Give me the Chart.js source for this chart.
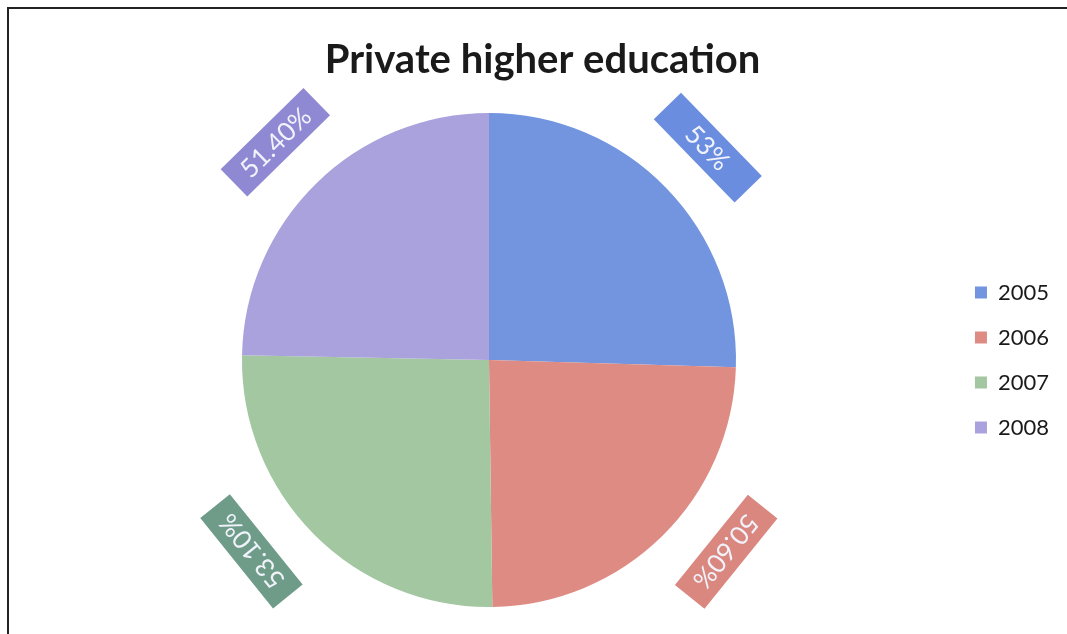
<!DOCTYPE html>
<html>
<head>
<meta charset="utf-8">
<script src="https://cdn.jsdelivr.net/npm/chart.js@4"></script>
<style>
  html, body { margin: 0; padding: 0; background: #fff; }
  #wrap { width: 1067px; height: 634px; position: relative; }
</style>
</head>
<body>
<div id="wrap"><canvas id="myChart" width="1067" height="634"></canvas></div>
<script>
const years = ['2005', '2006', '2007', '2008'];
const shares = [53, 50.6, 53.1, 51.4];
const shareLabels = ['53%', '50.60%', '53.10%', '51.40%'];
const sliceColors = ['#7394de', '#de8c83', '#a2c7a1', '#aaa2dc'];
const boxColors = ['#6a8ddf', '#d9877f', '#6f9c89', '#8f88d3'];

// labels drawn as rotated boxes outside the pie, slid along the ring
// so they stay inside the plot area (like excel does)
const boxLabels = {
    id: 'boxLabels',
    afterDatasetsDraw(chart) {
        const c = chart.ctx;
        const bottom = chart.chartArea.bottom + 3;
        const w = 116, h = 38;
        const arcs = chart.getDatasetMeta(0).data;
        arcs.forEach((arc, i) => {
            const p = arc.getProps(['x', 'y', 'startAngle', 'endAngle', 'outerRadius'], true);
            let a = (p.startAngle + p.endAngle) / 2;
            const r = p.outerRadius + 58;
            const dir = Math.cos(a) >= 0 ? -1 : 1;
            for (let k = 0; k < 90; k++) {
                const rot = a + Math.PI / 2;
                const hh = Math.abs(w / 2 * Math.sin(rot)) + Math.abs(h / 2 * Math.cos(rot));
                if (p.y + Math.sin(a) * r + hh <= bottom) break;
                a += dir * Math.PI / 360;
            }
            const x = p.x + Math.cos(a) * r;
            const y = p.y + Math.sin(a) * r;
            c.save();
            c.translate(x, y);
            c.rotate(a + Math.PI / 2);
            c.fillStyle = boxColors[i];
            c.fillRect(-w / 2, -h / 2, w, h);
            c.fillStyle = '#f1f3fb';
            c.font = '26px Lato';
            c.textAlign = 'center';
            c.textBaseline = 'middle';
            c.fillText(shareLabels[i], 0, 1);
            c.restore();
        });
    }
};

// scanned frame lines
const frame = {
    id: 'frame',
    beforeDraw(chart) {
        const c = chart.ctx;
        c.save();
        c.strokeStyle = '#222';
        c.lineWidth = 2;
        c.beginPath();
        c.moveTo(8, 634);
        c.lineTo(8, 8);
        c.lineTo(1067, 8);
        c.stroke();
        c.restore();
    }
};

const ctx = document.getElementById('myChart');
const myChart = new Chart(ctx, {
    type: 'pie',
    data: {
        labels: years,
        datasets: [{
            data: shares,
            backgroundColor: sliceColors,
            borderWidth: 0
        }]
    },
    options: {
        responsive: false,
        animation: false,
        layout: {
            padding: { left: 26, right: 8, top: 0, bottom: 27 }
        },
        plugins: {
            title: {
                display: true,
                text: 'Private higher education',
                color: '#1a1a1a',
                font: { family: 'Lato', size: 40, weight: 'bold' },
                padding: { top: 36, bottom: 29 }
            },
            legend: {
                position: 'right',
                fullSize: false,
                labels: {
                    color: '#1a1a1a',
                    font: { family: 'Lato', size: 22 },
                    boxWidth: 12,
                    boxHeight: 12,
                    padding: 23
                }
            },
            tooltip: { enabled: false }
        }
    },
    plugins: [boxLabels, frame]
});
</script>
</body>
</html>
